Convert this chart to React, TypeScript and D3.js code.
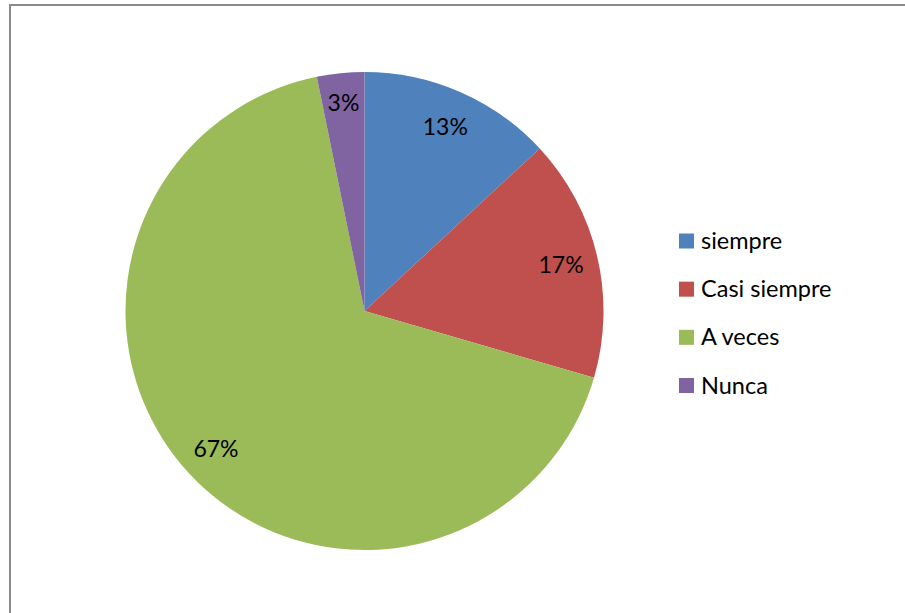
import React from "react";
import * as d3 from "d3";

const categories = ["siempre", "Casi siempre", "A veces", "Nunca"];
const values = [13.1, 16.4, 67.3, 3.2];
const labels = ["13%", "17%", "67%", "3%"];
const colors = ["#4F81BD", "#C0504D", "#9BBB59", "#8064A2"];

const W = 905;
const H = 613;
const CX = 364.5;
const CY = 311;
const R = 239;
const FONT = "Lato, 'Open Sans', sans-serif";

export default function App() {
  const pie = d3.pie<number>().sort(null).value((d) => d);
  const arcs = pie(values);
  const arc = d3.arc<d3.PieArcDatum<number>>().innerRadius(0).outerRadius(R);
  const labelArc = (r: number) =>
    d3.arc<d3.PieArcDatum<number>>().innerRadius(r).outerRadius(r);

  const legendY = d3.scalePoint<string>().domain(categories).range([241, 385.5]);

  return (
    <svg
      width={W}
      height={H}
      style={{ position: "absolute", left: 0, top: 0, background: "#fff", overflow: "hidden" }}
      fontFamily={FONT}
    >
      <rect x={0} y={0} width={W} height={H} fill="#fff" />
      <path d={`M10,${H + 10} L10,5 L${W + 10},5`} fill="none" stroke="#8a8a8a" strokeWidth={2} />
      <g transform={`translate(${CX},${CY})`}>
        {arcs.map((a, i) => (
          <path key={i} d={arc(a) || ""} fill={colors[i]} />
        ))}
        {arcs.map((a, i) => {
          const small = a.endAngle - a.startAngle < 0.35;
          const [x, y] = labelArc(small ? 210 : 202).centroid(a);
          return (
            <text
              key={"l" + i}
              x={x}
              y={y}
              textAnchor="middle"
              dominantBaseline="central"
              fontSize={23}
              fill="#000"
            >
              {labels[i]}
            </text>
          );
        })}
      </g>
      <g>
        {categories.map((c, i) => {
          const y = legendY(c) as number;
          return (
            <g key={c}>
              <rect x={679} y={y - 7.5} width={15} height={15} fill={colors[i]} />
              <text x={701} y={y + 8} fontSize={23.5} fill="#000">
                {c}
              </text>
            </g>
          );
        })}
      </g>
    </svg>
  );
}
